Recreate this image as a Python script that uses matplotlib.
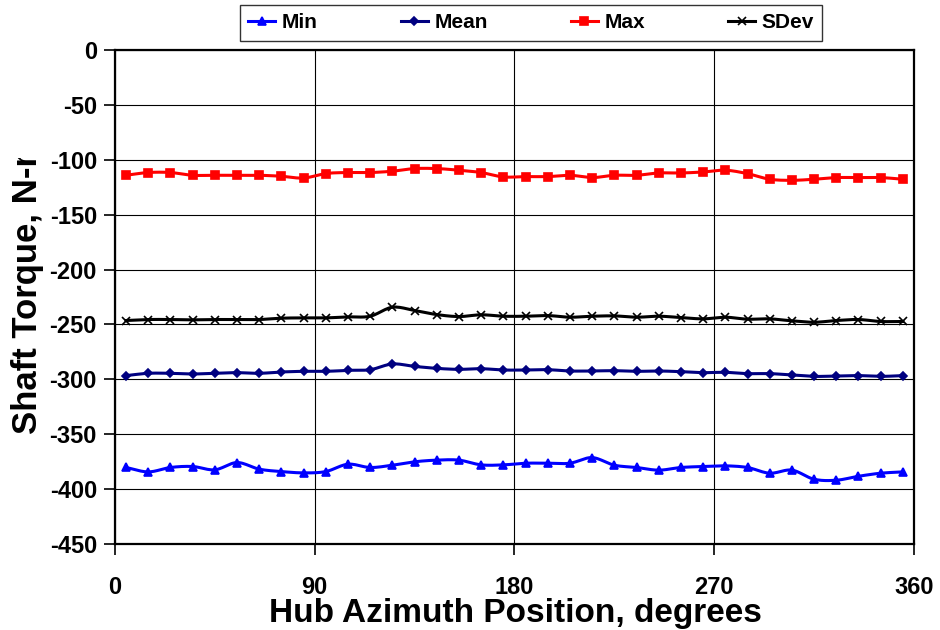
import numpy as np
import matplotlib
matplotlib.use("Agg")
from matplotlib import pyplot as plt
from matplotlib.transforms import Bbox

plt.rcParams['font.family'] = ['Liberation Sans', 'DejaVu Sans']
plt.rcParams['font.weight'] = 'bold'
plt.rcParams['axes.unicode_minus'] = False

# hub azimuth bins, 10 degree wide, plotted at their centres
azimuth = np.arange(5, 360, 10)

torque_min = [-380.3, -384.3, -380.3, -379.4, -382.4, -375.8, -381.8, -384.0, -385.2,
              -384.0, -377.3, -380.3, -378.2, -375.1, -373.6, -373.6, -377.9, -377.9,
              -376.4, -376.4, -376.4, -371.3, -378.2, -380.3, -382.7, -380.3, -379.4,
              -378.8, -380.3, -385.5, -382.7, -391.0, -391.9, -388.3, -385.5, -384.3]
torque_mean = [-296.6, -294.5, -294.5, -295.1, -294.5, -293.9, -294.5, -293.3, -292.7,
               -292.7, -291.8, -291.2, -286.0, -288.2, -290.0, -290.9, -290.3, -291.5,
               -291.5, -291.2, -292.4, -292.4, -292.1, -292.7, -292.4, -293.0, -293.9,
               -293.6, -294.8, -294.8, -296.0, -297.3, -297.0, -296.6, -297.3, -296.6]
torque_max = [-114.1, -111.6, -111.6, -114.1, -114.1, -114.1, -114.1, -115.0, -116.6,
              -112.5, -111.6, -111.6, -110.4, -108.0, -108.0, -109.5, -111.6, -115.6,
              -115.3, -115.3, -114.1, -116.2, -114.1, -114.1, -112.0, -112.0, -111.1,
              -109.5, -112.6, -117.7, -118.7, -117.7, -116.2, -116.2, -116.2, -117.7]
torque_sdev = [-246.4, -245.5, -245.5, -245.8, -245.5, -245.5, -245.5, -244.3, -244.0,
               -244.0, -243.1, -242.5, -234.3, -237.3, -241.0, -242.8, -241.2, -242.5,
               -242.5, -241.9, -243.4, -242.5, -242.2, -243.4, -242.5, -243.7, -244.9,
               -243.4, -245.2, -244.9, -246.7, -248.0, -246.4, -245.5, -247.3, -247.3]

x_ticks = [0, 90, 180, 270, 360]
y_ticks = list(range(-450, 1, 50))


def smooth(x, y, steps=12):
    """Catmull-Rom curve through the points, like a smoothed spreadsheet line."""
    x = np.asarray(x, float)
    y = np.asarray(y, float)
    px = np.concatenate([[2 * x[0] - x[1]], x, [2 * x[-1] - x[-2]]])
    py = np.concatenate([[2 * y[0] - y[1]], y, [2 * y[-1] - y[-2]]])
    t = np.linspace(0, 1, steps, endpoint=False)
    xs, ys = [], []
    for i in range(1, len(px) - 2):
        for p, out in ((px, xs), (py, ys)):
            p0, p1, p2, p3 = p[i - 1], p[i], p[i + 1], p[i + 2]
            out.append(0.5 * (2 * p1 + (-p0 + p2) * t
                              + (2 * p0 - 5 * p1 + 4 * p2 - p3) * t ** 2
                              + (-p0 + 3 * p1 - 3 * p2 + p3) * t ** 3))
    xs.append([x[-1]])
    ys.append([y[-1]])
    return np.concatenate(xs), np.concatenate(ys)


series = [
    ("Min", torque_min, "#0000ff", "^", 6),
    ("Mean", torque_mean, "#000080", "D", 4.5),
    ("Max", torque_max, "#ff0000", "s", 6),
    ("SDev", torque_sdev, "#000000", "x", 6),
]

fig = plt.figure(figsize=(9.4, 6.3), dpi=100)
ax = fig.add_axes([0.1223, 0.1365, 0.85, 0.7841])

handles = []
for name, vals, color, marker, ms in series:
    sx, sy = smooth(azimuth, vals)
    ax.plot(sx, sy, color=color, lw=2.2, zorder=3)
    ax.plot(azimuth, vals, ls="none", marker=marker, ms=ms, color=color,
            mec=color, mew=1.2, zorder=4)
    h, = ax.plot([], [], color=color, lw=2.2, marker=marker, ms=ms, mew=1.2)
    handles.append((h, name))

ax.set_xlim(0, 360)
ax.set_ylim(-450, 0)
ax.set_xticks(x_ticks)
ax.set_yticks(y_ticks)
ax.grid(True, color="black", lw=0.8)
ax.set_axisbelow(True)
for sp in ax.spines.values():
    sp.set_linewidth(1.6)
    sp.set_color("black")
ax.tick_params(axis="both", direction="out", length=8, width=1.2, labelsize=17)
ax.tick_params(axis="x", pad=15)
ax.tick_params(axis="y", pad=5)

fig.text(0.548, 0.0127, "Hub Azimuth Position, degrees", fontsize=24,
         fontweight="bold", ha="center", va="baseline")

# y title sits in a narrow box, so its tail is cut off
ylab = fig.text(0.029, 0.311, "Shaft Torque, N-m", rotation=90, fontsize=25,
                fontweight="bold", ha="center", va="bottom")
ylab.set_clip_box(Bbox([[0, 0], [940, 630 - 158]]))
ylab.set_clip_on(True)

leg = fig.legend([h for h, _ in handles], [n for _, n in handles],
                 loc="upper center", bbox_to_anchor=(0.565, 0.992), ncol=4,
                 prop={"size": 15, "weight": "bold"}, frameon=True,
                 fancybox=False, edgecolor="black", borderaxespad=0,
                 handlelength=1.3, handletextpad=0.3, columnspacing=4.0,
                 borderpad=0.4, numpoints=1)
leg.get_frame().set_linewidth(1.0)

fig.savefig("out.png", dpi=100)
